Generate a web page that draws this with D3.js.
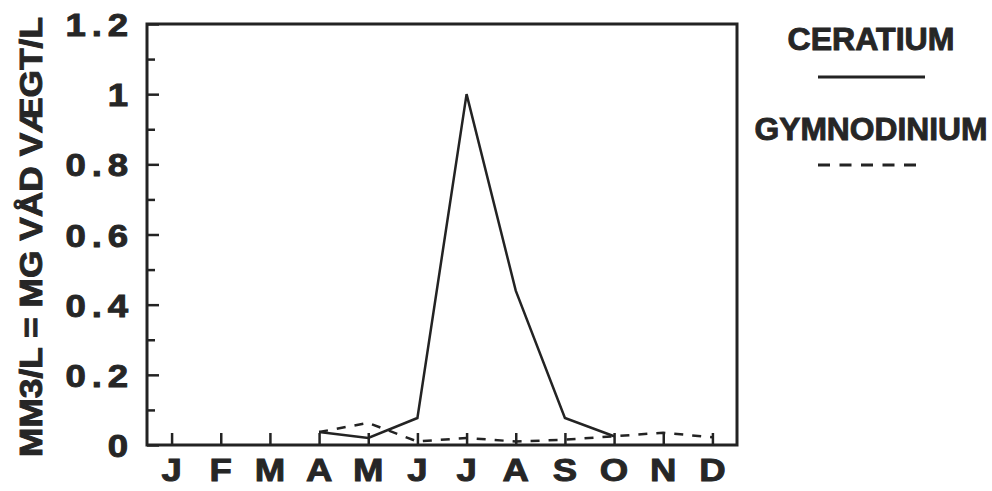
<!DOCTYPE html>
<html>
<head>
<meta charset="utf-8">
<script src="https://cdn.jsdelivr.net/npm/d3@7"></script>
<style>
  html, body { margin: 0; padding: 0; background: #fff; }
  svg { display: block; }
  text { font-family: "Liberation Sans", Arial, sans-serif; font-weight: bold; fill: #262626; stroke: #262626; stroke-width: 0.9; }
</style>
</head>
<body>
<script>
// Monthly biomass of two dinoflagellate genera
const months = ["J", "F", "M", "A", "M", "J", "J", "A", "S", "O", "N", "D"];
const ceratiumMonths = [3, 4, 5, 6, 7, 8, 9];
const ceratium = [0.037, 0.02, 0.077, 1.0, 0.44, 0.077, 0.025];
const gymnoMonths = [3, 4, 5, 6, 7, 8, 9, 10, 11];
const gymnodinium = [0.037, 0.063, 0.01, 0.02, 0.01, 0.015, 0.025, 0.035, 0.022];
const yTicks = [0, 0.2, 0.4, 0.6, 0.8, 1, 1.2];
const yMinorTicks = [0.1, 0.3, 0.5, 0.7, 0.9, 1.1];
const yTitle = "MM3/L = MG VÅD VÆGT/L";
const seriesNames = ["CERATIUM", "GYMNODINIUM"];

const W = 992, H = 491;
const ink = "#232323";
const m = { left: 147, right: 737, top: 24, bottom: 445 };
const wide = 1.18; // horizontal stretch of the label lettering

const svg = d3.select("body").append("svg").attr("width", W).attr("height", H);
svg.append("rect").attr("width", W).attr("height", H).attr("fill", "#fff").attr("stroke", "none");

const x = d3.scalePoint().domain(d3.range(12)).range([m.left, m.right]).padding(0.5);
const y = d3.scaleLinear().domain([0, 1.2]).range([m.bottom, m.top]);

// plot frame
svg.append("rect")
  .attr("x", m.left).attr("y", m.top)
  .attr("width", m.right - m.left).attr("height", m.bottom - m.top)
  .attr("fill", "none").attr("stroke", ink).attr("stroke-width", 3);

// left axis: major ticks with labels, minor ticks between them
const yAxis = d3.axisRight(y).tickValues(yTicks).tickSize(12).tickFormat("");
const gy = svg.append("g").attr("transform", `translate(${m.left},0)`).call(yAxis);
gy.select(".domain").remove();
gy.selectAll(".tick line").attr("stroke", ink).attr("stroke-width", 2.5);

const yMinor = d3.axisRight(y).tickValues(yMinorTicks).tickSize(8).tickFormat("");
const gym = svg.append("g").attr("transform", `translate(${m.left},0)`).call(yMinor);
gym.select(".domain").remove();
gym.selectAll(".tick line").attr("stroke", ink).attr("stroke-width", 2.5);

svg.append("g").selectAll("text").data(yTicks).join("text")
  .attr("transform", d => `translate(134,${y(d) + 12}) scale(${wide},1)`)
  .attr("text-anchor", "end")
  .attr("font-size", 31)
  .attr("letter-spacing", 5)
  .text(d => d3.format("~g")(d));

// bottom axis: month ticks pointing up into the plot
const xAxis = d3.axisTop(x).tickSize(12).tickFormat("");
const gx = svg.append("g").attr("transform", `translate(0,${m.bottom})`).call(xAxis);
gx.select(".domain").remove();
gx.selectAll(".tick line").attr("stroke", ink).attr("stroke-width", 2.5);

svg.append("g").selectAll("text").data(months).join("text")
  .attr("transform", (d, i) => `translate(${x(i)},481) scale(${wide},1)`)
  .attr("text-anchor", "middle")
  .attr("font-size", 31)
  .text(d => d);

// y axis title
svg.append("text")
  .attr("transform", `translate(42,237) rotate(-90)`)
  .attr("text-anchor", "middle")
  .attr("font-size", 31)
  .attr("textLength", 440).attr("lengthAdjust", "spacingAndGlyphs")
  .text(yTitle);

// series lines
const line = d3.line().x(d => x(d[0])).y(d => y(d[1]));
svg.append("path")
  .datum(gymnoMonths.map((mo, i) => [mo, gymnodinium[i]]))
  .attr("d", line).attr("fill", "none")
  .attr("stroke", ink).attr("stroke-width", 2.5)
  .attr("stroke-dasharray", "9,9");
svg.append("path")
  .datum(ceratiumMonths.map((mo, i) => [mo, ceratium[i]]))
  .attr("d", line).attr("fill", "none")
  .attr("stroke", ink).attr("stroke-width", 2.5)
  .attr("stroke-linejoin", "miter");

// legend
const lg = svg.append("g");
lg.append("text").attr("x", 871).attr("y", 50).attr("text-anchor", "middle")
  .attr("font-size", 31).attr("textLength", 167).attr("lengthAdjust", "spacingAndGlyphs")
  .text(seriesNames[0]);
lg.append("line").attr("x1", 818).attr("x2", 925).attr("y1", 77).attr("y2", 77)
  .attr("stroke", ink).attr("stroke-width", 3);
lg.append("text").attr("x", 871).attr("y", 140).attr("text-anchor", "middle")
  .attr("font-size", 31).attr("textLength", 233).attr("lengthAdjust", "spacingAndGlyphs")
  .text(seriesNames[1]);
lg.append("line").attr("x1", 818).attr("x2", 916).attr("y1", 165).attr("y2", 165)
  .attr("stroke", ink).attr("stroke-width", 3)
  .attr("stroke-dasharray", "12,9.5");
</script>
</body>
</html>
